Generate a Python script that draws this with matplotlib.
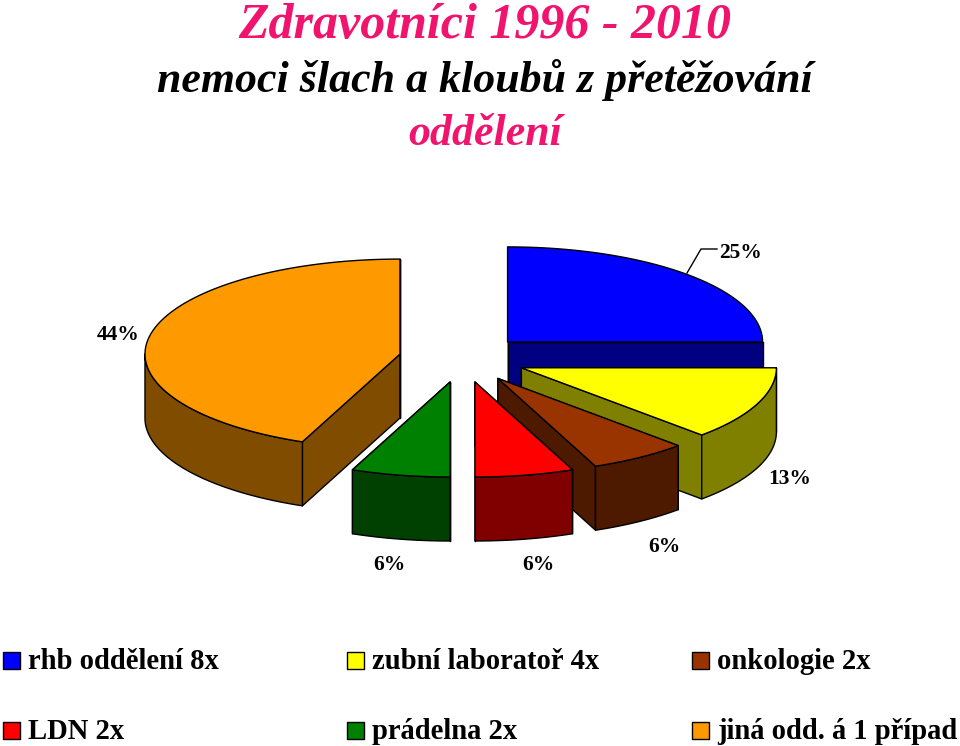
import numpy as np
import matplotlib
matplotlib.use('Agg')
import matplotlib.pyplot as plt
from matplotlib.patches import Polygon, Rectangle

categories = ['rhb oddělení 8x', 'zubní laboratoř 4x', 'onkologie 2x',
              'LDN 2x', 'prádelna 2x', 'jiná odd. á 1 případ']
values = [8, 4, 2, 2, 2, 14]
pct_labels = ['25%', '13%', '6%', '6%', '6%', '44%']
top_colors = ['#0000FF', '#FFFF00', '#993300', '#FF0000', '#008000', '#FF9900']
side_colors = ['#000080', '#808000', '#4D1A00', '#800000', '#004000', '#804D00']

# pie geometry in pixels
cx, cy = 462.5, 358.7
rx, ry = 255, 95
depth = 64
explode = 0.25
edge = '#000000'
serif = ['Liberation Serif', 'DejaVu Serif']

fig = plt.figure(figsize=(9.6, 7.46), dpi=100)
ax = fig.add_axes([0, 0, 1, 1])
ax.set_xlim(0, 960)
ax.set_ylim(746, 0)
ax.axis('off')


def arc(x0, y0, a1, a2):
    t = np.radians(np.linspace(a1, a2, 80))
    return np.column_stack([x0 + rx * np.cos(t), y0 - ry * np.sin(t)])


def draw_slice(a1, a2, top, side, z):
    mid = np.radians((a1 + a2) / 2)
    x0 = cx + explode * rx * np.cos(mid)
    y0 = cy - explode * ry * np.sin(mid)
    down = np.array([0, depth])
    tip = np.array([x0, y0])
    kw = dict(edgecolor=edge, linewidth=1.0, joinstyle='round', zorder=z)

    # straight walls, the one at the end of the slice goes on top
    for a in (a1, a2):
        p = arc(x0, y0, a, a)[0]
        ax.add_patch(Polygon([tip, p, p + down, tip + down], facecolor=side, **kw))

    # outer wall, only the front half of the ellipse shows
    lo, hi = max(a2, -180), min(a1, 0)
    if lo < hi:
        front = arc(x0, y0, hi, lo)
        ax.add_patch(Polygon(np.vstack([front, front[::-1] + down]), facecolor=side, **kw))

    ax.add_patch(Polygon(np.vstack([tip, arc(x0, y0, a1, a2)]), facecolor=top, **kw))


angles = 90 - np.concatenate([[0], np.cumsum(values)]) / sum(values) * 360
# back to front: blue, orange, yellow, green, brown, red
for z, i in enumerate([0, 5, 1, 4, 2, 3]):
    draw_slice(angles[i], angles[i + 1], top_colors[i], side_colors[i], z + 2)

# title lines
title_pink = '#F0146E'
ax.text(485, 38, 'Zdravotníci 1996 - 2010', family=serif, style='italic', weight='bold',
        fontsize=36, color=title_pink, ha='center', va='baseline')
ax.text(485, 92, 'nemoci šlach a kloubů z přetěžování', family=serif, style='italic',
        weight='bold', fontsize=31.6, color='black', ha='center', va='baseline')
ax.text(485, 145, 'oddělení', family=serif, style='italic', weight='bold', fontsize=31.6,
        color=title_pink, ha='center', va='baseline')

# data labels
label_pos = [(741, 253.5), (790, 478.5), (664, 546.5), (538, 564.5), (389, 564.5), (118, 334.5)]
for (x, y), s in zip(label_pos, pct_labels):
    ax.text(x, y, s, family=serif, weight='bold', fontsize=15.5, ha='center', va='center',
            color='black', zorder=20)
ax.plot([687, 701, 717], [273, 249, 249], color='black', lw=1.0, zorder=20)

# legend
col_x = [3, 347, 692]
row_y = [652, 722]
for i, name in enumerate(categories):
    x, y = col_x[i % 3], row_y[i // 3]
    ax.add_patch(Rectangle((x, y), 17, 17, facecolor=top_colors[i], edgecolor='black',
                           linewidth=1.0, zorder=20))
    ax.text(x + 25, y + 17, name, family=serif, weight='bold', fontsize=20.6, color='black',
            ha='left', va='baseline', zorder=20)

fig.savefig('out.png', dpi=100, facecolor='white')
